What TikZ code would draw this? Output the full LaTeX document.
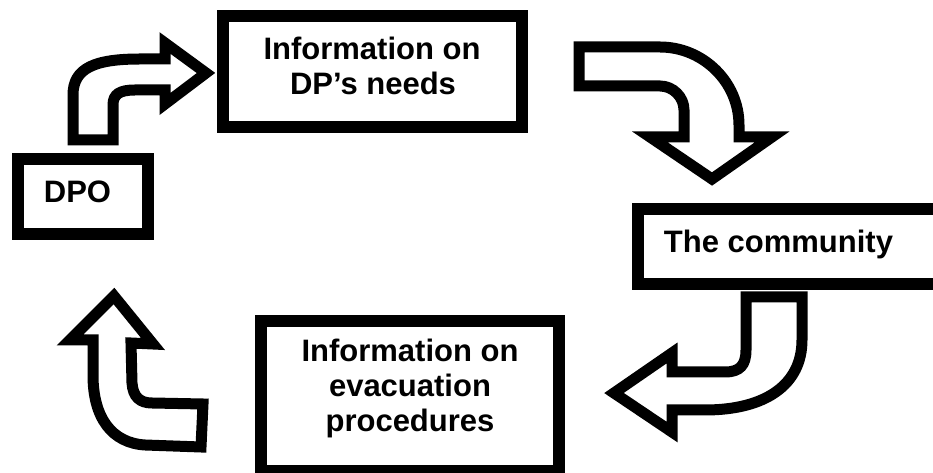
\documentclass[tikz,border=0pt]{standalone}
\usepackage{fontspec}
\setmainfont{Liberation Sans}
\begin{document}
\begin{tikzpicture}[x=0.75pt,y=-0.75pt,
  box/.style={draw=black, line width=9pt, fill=white, inner sep=0pt, rectangle},
  lbl/.style={anchor=base, inner sep=0pt, font=\fontsize{23.25pt}{26pt}\selectfont\bfseries},
  barrow/.style={draw=black, fill=white, line width=8.25pt, line join=miter}]
\useasboundingbox (0,0) rectangle (933,473);

% boxes
\node[box, minimum width=224.25pt, minimum height=83.25pt] (needs) at (372.5,71.5) {};
\node[box, minimum width=97.5pt, minimum height=56.25pt] (dpo) at (83,196.5) {};
\node[box, minimum width=230.25pt, minimum height=56.25pt] (comm) at (791.5,246.5) {};
\node[box, minimum width=223.5pt, minimum height=112.5pt] (evac) at (410,396) {};

% texts
\node[lbl] (needs1) at (372,60) {Information on};
\node[lbl] (needs2) at (373,95) {DP’s needs};
\node[lbl] (dpot) at (77.5,203) {DPO};
\node[lbl] (commt) at (778.5,253) {The community};
\node[lbl] (evac1) at (410,362) {Information on};
\node[lbl] (evac2) at (410,397) {evacuation};
\node[lbl] (evac3) at (410,432) {procedures};

% block arrows
% DPO -> needs
\draw[barrow] (73,140) -- (73,95) .. controls (73,68) and (95,59) .. (140,59)
  -- (165,59) -- (165,43) -- (206,73) -- (165,104) -- (165,90) -- (135,90)
  .. controls (120,90) and (113,94) .. (113,105) -- (113,140) -- cycle;
% needs -> community
\draw[barrow] (579,47) -- (660,47) .. controls (703,47) and (739,82) .. (739,125)
  -- (739,137) -- (772,137) -- (712,179) -- (650,137) -- (684,137) -- (684,110)
  .. controls (684,97) and (673,86) .. (660,86) -- (579,86) -- cycle;
% community -> evacuation
\draw[barrow] (746,297) -- (802,297) -- (802,340) .. controls (802,385) and (765,410) .. (705,410)
  -- (672,410) -- (672,432) -- (614,393) -- (672,353) -- (672,372) -- (725,372)
  .. controls (740,372) and (746,365) .. (746,350) -- cycle;
% evacuation -> DPO
\draw[barrow] (203,404) -- (201,447) -- (145,445) .. controls (112,443) and (93,418) .. (93,375)
  -- (93,340) -- (70,340) -- (114,296) -- (153,344) -- (131,343) -- (132,383)
  .. controls (133,397) and (140,403) .. (152,403) -- cycle;
\end{tikzpicture}
\end{document}
